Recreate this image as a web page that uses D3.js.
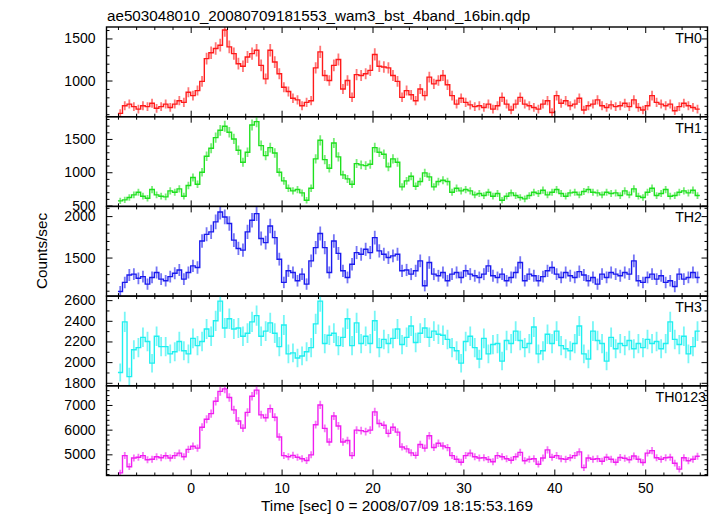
<!DOCTYPE html>
<html><head><meta charset="utf-8">
<script src="https://cdn.jsdelivr.net/npm/d3@7"></script>
<style>
html,body{margin:0;padding:0;background:#fff;}
svg{display:block;font-family:"Liberation Sans",Arial,Helvetica,sans-serif;}
</style></head><body>
<svg id="chart" width="717" height="516"></svg>
<script>
const title = "ae503048010_20080709181553_wam3_bst_4band_16bin.qdp";
const xLabel = "Time [sec] 0 = 2008/07/09 18:15:53.169";
const yLabel = "Counts/sec";
const bandNames = ["TH0", "TH1", "TH2", "TH3", "TH0123"];
const tStart = -7.75, binWidth = 0.5, errExposure = 0.25;

const th0 = [
  610,700,720,690,660,700,690,730,670,690,720,680,720,760,740,860,
  820,880,990,1260,1330,1380,1420,1600,1400,1320,1200,1170,1280,1320,1360,1180,
  1020,1360,1220,1080,920,870,790,770,700,740,760,1150,1340,1060,1000,1180,
  1250,900,1000,800,1070,1060,1080,1120,1310,1170,1160,1150,1060,990,800,880,
  830,760,900,820,1040,960,1000,1060,950,820,720,790,740,710,690,700,
  680,720,660,700,800,720,650,720,800,720,700,680,660,720,760,620,
  820,730,760,700,720,790,650,700,720,770,700,680,710,690,700,730,
  690,770,680,650,700,820,740,720,700,720,640,690,730,700,680,660];
const th1 = [
  570,585,620,660,700,640,610,740,660,640,630,720,700,750,640,800,
  920,820,1000,1240,1360,1520,1630,1690,1600,1500,1330,1150,1300,1710,1760,1400,
  1250,1370,1290,1000,870,760,720,740,690,580,760,1200,1480,1190,1060,1440,
  1230,960,900,820,1130,1110,1100,1120,1370,1300,1270,1080,1200,1150,780,870,
  940,790,860,990,930,780,860,880,860,700,760,720,740,720,660,680,
  650,700,640,680,580,640,690,650,620,600,650,700,680,730,660,700,
  740,680,640,690,700,660,710,740,700,690,660,700,680,690,650,720,
  660,750,640,620,700,760,650,680,740,640,650,700,720,690,730,650];
const th2 = [
  1090,1200,1290,1300,1250,1270,1180,1260,1320,1240,1220,1270,1310,1350,1240,1320,
  1400,1380,1700,1780,1810,1930,2050,1990,1910,1710,1610,1590,1810,1950,2030,1730,
  1680,1880,1740,1480,1200,1340,1320,1220,1300,1180,1460,1620,1790,1620,1320,1700,
  1550,1340,1260,1420,1560,1540,1600,1560,1740,1580,1540,1500,1520,1540,1340,1350,
  1300,1340,1460,1160,1440,1300,1280,1320,1220,1300,1320,1260,1340,1300,1280,1260,
  1300,1400,1280,1260,1300,1220,1260,1320,1440,1220,1300,1280,1220,1270,1340,1380,
  1300,1260,1320,1280,1260,1330,1290,1220,1260,1180,1300,1260,1320,1300,1280,1320,
  1300,1460,1220,1200,1260,1300,1240,1280,1200,1220,1150,1300,1240,1260,1320,1260];
const th3 = [
  1900,2390,1860,2120,2140,2240,2200,1990,2250,2150,2150,2080,2100,2200,2110,2080,
  2230,2160,2200,2320,2250,2400,2590,2330,2420,2320,2330,2250,2280,2390,2450,2250,
  2300,2380,2280,2150,2360,2080,2090,2040,2060,2100,2140,2370,2590,2180,2260,2280,
  2160,2240,2420,2160,2380,2180,2250,2180,2400,2140,2220,2180,2230,2320,2170,2240,
  2350,2190,2280,2330,2240,2300,2270,2260,2220,2140,2110,1990,2200,2250,2140,2030,
  2230,2080,2170,2180,2010,2210,2180,2300,2210,2140,2180,2340,2080,2110,2270,2180,
  2300,2160,2130,2110,2180,2350,2080,2030,2300,2210,2180,2010,2240,2130,2180,2160,
  2210,2130,2180,2140,2220,2180,2200,2130,2180,2390,2220,2170,2250,2080,2150,2300];
const th0123 = [
  4250,4950,4500,4850,4880,4950,4780,4800,4900,4860,4940,4850,4950,5050,4900,5200,
  5330,5250,6100,6420,6650,7150,7550,7650,7300,6800,6350,6060,6700,7350,7600,6600,
  6480,6850,6500,5700,4950,4900,4960,4880,4820,4750,4980,6200,7000,6050,5500,6550,
  6150,5500,5560,4950,5980,5960,5920,5980,6720,6250,6180,5850,6100,5900,5300,5220,
  5060,4960,5400,5250,5750,5280,5450,5340,5270,4950,4800,4680,4950,5050,4900,4850,
  4860,4790,4700,4950,4900,4820,4760,4900,5080,4740,4800,4820,4600,4850,5180,4880,
  4950,4820,4800,4860,4950,5100,4460,4850,4800,4820,4720,4880,4800,4680,4870,4840,
  4780,4930,4800,4670,5050,5150,4860,4800,4860,4880,4640,4400,4860,4740,4800,4920];

const xDomain = [-9.26, 56.85];
const xTickMajor = [0, 10, 20, 30, 40, 50];
const xTickMinor = [-8,-6,-4,-2,2,4,6,8,12,14,16,18,22,24,26,28,32,34,36,38,42,44,46,48,52,54,56];
const yDomains = [[570,1636],[487,1834],[1035,2117],[1771,2639],[4143,7776]];
const yTickMajor = [[1000,1500],[500,1000,1500],[1500,2000],[1800,2000,2200,2400,2600],[5000,6000,7000]];
const yMinorStep = [100, 100, 100, 100, 200];
const colors = ["#ff1a1a", "#1ee01e", "#1a1aee", "#1ef0f0", "#f01ef0"];

const series = [th0, th1, th2, th3, th0123];

const svg = d3.select("#chart");
const L = 106.5, R = 707.5, T0 = 27, PH = 89.7;
const x = d3.scaleLinear().domain(xDomain).range([L, R]);

svg.append("text").attr("x", 107).attr("y", 20.5).attr("font-size", 15.2)
  .attr("fill", "#000").text(title);

series.forEach((vals, i) => {
  const top = T0 + i * PH, bot = top + PH;
  const y = d3.scaleLinear().domain(yDomains[i]).range([bot, top]);
  const g = svg.append("g");
  const cid = "clip" + i;
  svg.append("clipPath").attr("id", cid).append("rect")
    .attr("x", L).attr("y", top).attr("width", R - L).attr("height", PH);
  const pts = vals.map((v, j) => {
    const t = tStart + j * binWidth;
    const err = Math.sqrt(v * errExposure) / errExposure;
    return {t, v, err};
  });
  const dg = g.append("g").attr("clip-path", `url(#${cid})`);
  dg.selectAll("line.err").data(pts).join("line").attr("class", "err")
    .attr("x1", d => x(d.t)).attr("x2", d => x(d.t))
    .attr("y1", d => y(d.v - d.err)).attr("y2", d => y(d.v + d.err))
    .attr("stroke", colors[i]).attr("stroke-width", 1.8).attr("stroke-opacity", 0.6);
  const stepPts = pts.flatMap(d => [[d.t - binWidth / 2, d.v], [d.t + binWidth / 2, d.v]]);
  dg.append("path").datum(stepPts)
    .attr("d", d3.line().x(d => x(d[0])).y(d => y(d[1])))
    .attr("fill", "none").attr("stroke", colors[i]).attr("stroke-width", 1.4)
    .attr("stroke-linejoin", "miter");

  const minor = d3.range(Math.ceil(yDomains[i][0] / yMinorStep[i]) * yMinorStep[i], yDomains[i][1], yMinorStep[i])
    .filter(v => !yTickMajor[i].includes(v));

  const styleAxis = sel => {
    sel.select(".domain").remove();
    sel.selectAll(".tick line").attr("stroke", "#000").attr("stroke-width", 1);
    sel.selectAll("text").attr("font-size", 14).attr("fill", "#000")
      .attr("font-family", '"Liberation Sans",Arial,sans-serif');
  };
  g.append("g").attr("transform", `translate(${L},0)`)
    .call(d3.axisLeft(y).tickValues(yTickMajor[i]).tickSize(-6).tickPadding(11).tickFormat(d3.format("d")))
    .call(styleAxis);
  g.append("g").attr("transform", `translate(${L},0)`)
    .call(d3.axisLeft(y).tickValues(minor).tickSize(-3).tickFormat(""))
    .call(styleAxis);
  g.append("g").attr("transform", `translate(${R},0)`)
    .call(d3.axisRight(y).tickValues(yTickMajor[i]).tickSize(-6).tickFormat(""))
    .call(styleAxis);
  g.append("g").attr("transform", `translate(${R},0)`)
    .call(d3.axisRight(y).tickValues(minor).tickSize(-3).tickFormat(""))
    .call(styleAxis);
  g.append("g").attr("transform", `translate(0,${top})`)
    .call(d3.axisTop(x).tickValues(xTickMajor).tickSize(-6).tickFormat(""))
    .call(styleAxis);
  g.append("g").attr("transform", `translate(0,${top})`)
    .call(d3.axisTop(x).tickValues(xTickMinor).tickSize(-3).tickFormat(""))
    .call(styleAxis);
  g.append("g").attr("transform", `translate(0,${bot})`)
    .call(d3.axisBottom(x).tickValues(xTickMajor).tickSize(-6).tickPadding(8)
      .tickFormat(i === series.length - 1 ? d3.format("d") : ""))
    .call(styleAxis);
  g.append("g").attr("transform", `translate(0,${bot})`)
    .call(d3.axisBottom(x).tickValues(xTickMinor).tickSize(-3).tickFormat(""))
    .call(styleAxis);
  g.append("rect").attr("x", L).attr("y", top).attr("width", R - L).attr("height", PH)
    .attr("fill", "none").attr("stroke", "#000").attr("stroke-width", 1.4);
  g.append("text").attr("x", i === series.length - 1 ? 706 : 702).attr("y", top + 16)
    .attr("text-anchor", "end").attr("font-size", 14.2).attr("fill", "#000").text(bandNames[i]);
});

svg.append("text").attr("transform", "translate(47,251) rotate(-90)")
  .attr("text-anchor", "middle").attr("font-size", 15.2).attr("fill", "#000").text(yLabel);
svg.append("text").attr("x", 397).attr("y", 510.5).attr("text-anchor", "middle")
  .attr("font-size", 15.4).attr("fill", "#000").text(xLabel);
</script>
</body></html>
